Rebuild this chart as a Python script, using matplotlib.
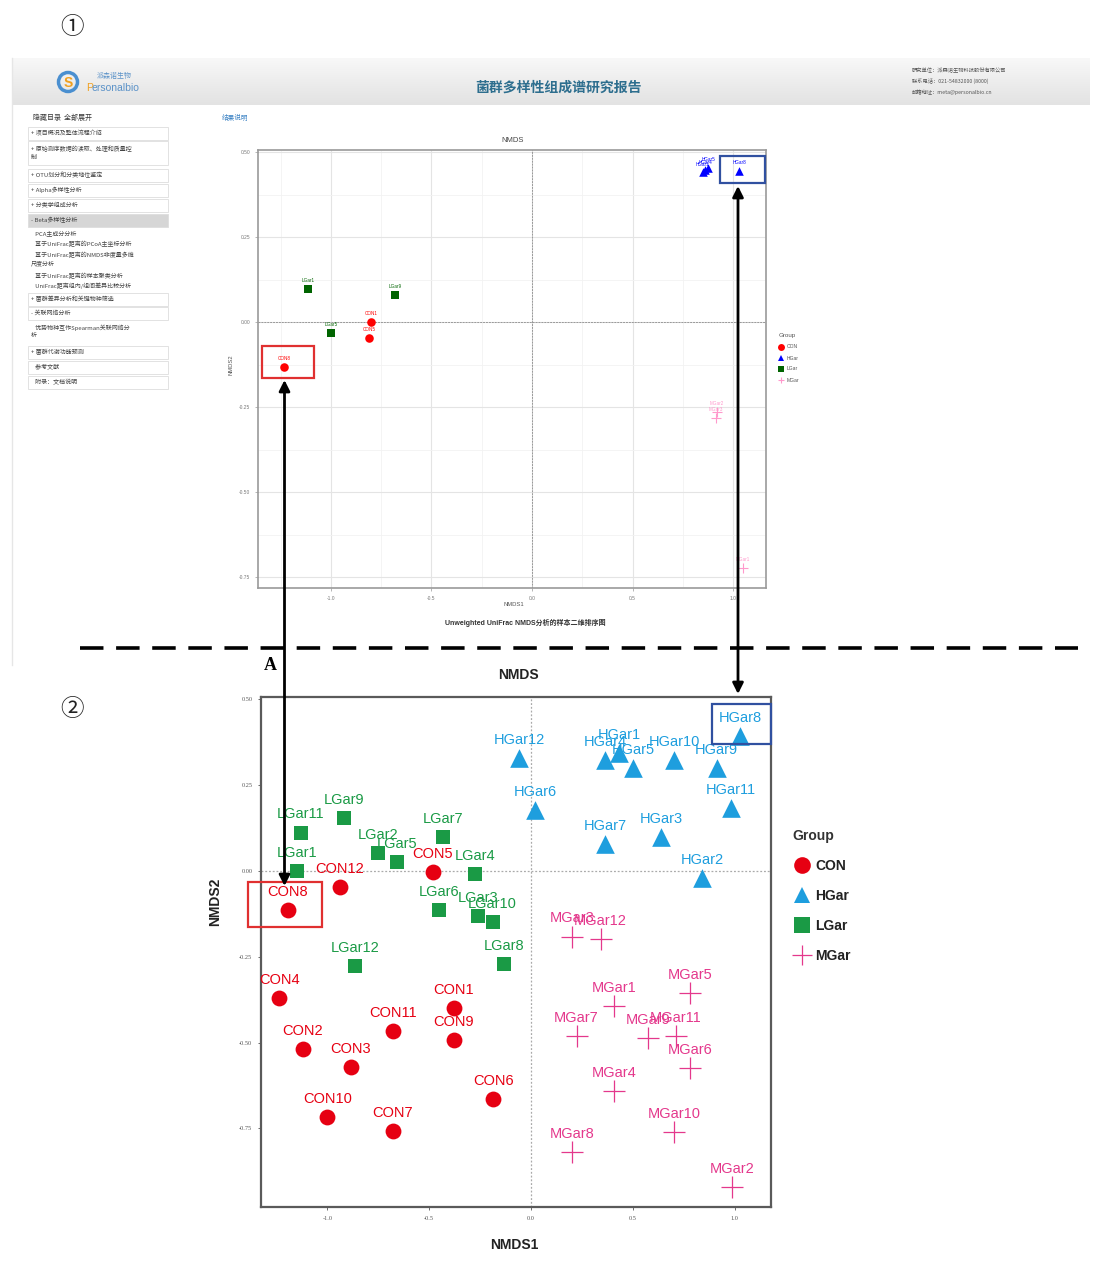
import matplotlib
matplotlib.use('Agg')
import matplotlib.pyplot as plt
import numpy as np
from matplotlib.patches import Rectangle, FancyArrowPatch, Circle
from matplotlib.lines import Line2D
from matplotlib.ticker import MultipleLocator

W, H = 1105, 1269
plt.rcParams['font.family'] = ['Liberation Sans', 'Noto Sans CJK SC', 'DejaVu Sans']
CJK = ['Noto Sans CJK SC', 'DejaVu Sans']

# ---------------- data: panel 2 (full NMDS) ----------------
con_labels = ['CON1', 'CON2', 'CON3', 'CON4', 'CON5', 'CON6', 'CON7', 'CON8', 'CON9', 'CON10', 'CON11', 'CON12']
con_x = [-0.379, -1.121, -0.885, -1.236, -0.483, -0.185, -0.679, -1.194, -0.379, -1.000, -0.679, -0.938]
con_y = [-0.400, -0.519, -0.571, -0.371, -0.003, -0.665, -0.757, -0.114, -0.493, -0.716, -0.466, -0.047]

hgar_labels = ['HGar1', 'HGar2', 'HGar3', 'HGar4', 'HGar5', 'HGar6', 'HGar7', 'HGar8', 'HGar9', 'HGar10', 'HGar11', 'HGar12']
hgar_x = [0.433, 0.841, 0.638, 0.363, 0.502, 0.020, 0.363, 1.026, 0.912, 0.704, 0.980, -0.057]
hgar_y = [0.343, -0.021, 0.100, 0.324, 0.299, 0.178, 0.079, 0.392, 0.299, 0.324, 0.183, 0.329]

lgar_labels = ['LGar1', 'LGar2', 'LGar3', 'LGar4', 'LGar5', 'LGar6', 'LGar7', 'LGar8', 'LGar9', 'LGar10', 'LGar11', 'LGar12']
lgar_x = [-1.147, -0.750, -0.259, -0.275, -0.659, -0.453, -0.430, -0.131, -0.917, -0.188, -1.129, -0.862]
lgar_y = [0.000, 0.052, -0.130, -0.009, 0.027, -0.114, 0.100, -0.272, 0.154, -0.150, 0.112, -0.276]

mgar_labels = ['MGar1', 'MGar2', 'MGar3', 'MGar4', 'MGar5', 'MGar6', 'MGar7', 'MGar8', 'MGar9', 'MGar10', 'MGar11', 'MGar12']
mgar_x = [0.409, 0.988, 0.200, 0.409, 0.781, 0.781, 0.224, 0.200, 0.576, 0.704, 0.710, 0.342]
mgar_y = [-0.393, -0.920, -0.191, -0.640, -0.357, -0.575, -0.480, -0.818, -0.486, -0.762, -0.480, -0.199]

group_names = ['CON', 'HGar', 'LGar', 'MGar']
x_ticks = [-1.0, -0.5, 0.0, 0.5, 1.0]
y_ticks = [0.50, 0.25, 0.00, -0.25, -0.50, -0.75]

# ---------------- data: panel 1 (report screenshot, small NMDS) ----------------
top_con_labels = ['CON8', 'CON1', 'CON5']
top_con_x = [-1.234, -0.800, -0.810]
top_con_y = [-0.132, 0.000, -0.047]
top_hgar_labels = ['HGar1', 'HGar5', 'HGar4', 'HGar8']
top_hgar_x = [0.850, 0.876, 0.862, 1.030]
top_hgar_y = [0.440, 0.453, 0.446, 0.444]
top_lgar_labels = ['LGar1', 'LGar9', 'LGar5']
top_lgar_x = [-1.114, -0.680, -1.000]
top_lgar_y = [0.097, 0.079, -0.032]
top_mgar_labels = ['MGar3', 'MGar2', 'MGar1']
top_mgar_x = [0.915, 0.920, 1.050]
top_mgar_y = [-0.282, -0.265, -0.724]

menu_items = ['+ 项目概况及整体流程介绍',
              '+ 原始测序数据的读取、处理和质量控\n制',
              '+ OTU划分和分类地位鉴定',
              '+ Alpha多样性分析',
              '+ 分类学组成分析',
              '- Beta多样性分析',
              '   PCA主成分分析',
              '   基于UniFrac距离的PCoA主坐标分析',
              '   基于UniFrac距离的NMDS非度量多维\n尺度分析',
              '   基于UniFrac距离的样本聚类分析',
              '   UniFrac距离组内/组间差异比较分析',
              '+ 菌群差异分析和关键物种筛选',
              '- 关联网络分析',
              '   优势物种互作Spearman关联网络分\n析',
              '+ 菌群代谢功能预测',
              '   参考文献',
              '   附录：文档说明']
menu_y = [133, 153, 175, 190, 205, 220, 233, 244, 259, 276, 286, 299, 313, 331, 352, 367, 382]
menu_boxed = [True, True, True, True, True, True, False, False, False, False, False,
              True, True, False, True, True, True]


def rect(x0, y0, x1, y1):
    return [x0 / W, 1 - y1 / H, (x1 - x0) / W, (y1 - y0) / H]


fig = plt.figure(figsize=(W / 100, H / 100), dpi=100)
fig.patch.set_facecolor('white')

# ---------------- background layer (screenshot chrome) ----------------
bg = fig.add_axes([0, 0, 1, 1], zorder=-5)
bg.set_xlim(0, W)
bg.set_ylim(H, 0)
bg.axis('off')
grad = np.linspace(0, 1, 50).reshape(-1, 1)
bg.imshow(grad, extent=[12, 1090, 105, 58], cmap=matplotlib.colors.LinearSegmentedColormap.from_list(
    'hdr', ['#f8f8f8', '#ededed', '#e3e3e3']), aspect='auto', zorder=0)
bg.plot([12, 12], [58, 665], color='#e6e6e6', lw=1)
# logo
bg.add_patch(Circle((68, 82), 9.5, facecolor='none', edgecolor='#4a8fd0', lw=2.5, zorder=2))
bg.text(68, 83, 'S', color='#f0a020', fontsize=10, fontweight='bold', ha='center', va='center', zorder=3)
bg.text(97, 76, '派森诺生物', fontsize=5, color='#5b92c8', family=CJK, va='center')
bg.text(86, 88, 'P', fontsize=7.5, color='#f0a020', va='center')
bg.text(92, 88, 'ersonalbio', fontsize=7.5, color='#5b92c8', va='center')
bg.text(558, 88, '菌群多样性组成谱研究报告', fontsize=10, fontweight='bold', color='#2d6e8e',
        family=CJK, ha='center', va='center')
for yy, tt in zip([70, 81, 92], ['研究单位：派森诺生物科技股份有限公司', '联系电话：021-54832000 (8000)',
                                   '邮箱地址：meta@personalbio.cn']):
    bg.text(912, yy, tt, fontsize=3.8, color='#555555', family=CJK, va='center')
# sidebar
bg.text(33, 118, '隐藏目录  全部展开', fontsize=5, color='#333333', family=CJK, va='center')
for txt, yy, boxed in zip(menu_items, menu_y, menu_boxed):
    nlines = txt.count('\n') + 1
    hh = 11 * nlines + 2
    if boxed:
        fc = '#d6d6d6' if txt.startswith('- Beta') else 'white'
        bg.add_patch(Rectangle((28, yy - hh / 2), 140, hh, facecolor=fc, edgecolor='#dddddd', lw=0.6))
    bg.text(31, yy, txt, fontsize=4.3, color='#444444', family=CJK, va='center', linespacing=1.5)
bg.text(222, 118, '结果说明', fontsize=4.8, color='#3b82c4', family=CJK, va='center')

# ---------------- panel 1: small NMDS in screenshot ----------------
ax1 = fig.add_axes(rect(258, 150, 766, 588))
ax1.set_xlim(-1.363, 1.164)
ax1.set_ylim(-0.782, 0.506)
ax1.set_facecolor('white')
ax1.xaxis.set_major_locator(MultipleLocator(0.5))
ax1.xaxis.set_minor_locator(MultipleLocator(0.25))
ax1.set_yticks(y_ticks)
ax1.yaxis.set_minor_locator(MultipleLocator(0.125))
ax1.grid(True, which='major', color='#e4e4e4', lw=0.8)
ax1.grid(True, which='minor', color='#f2f2f2', lw=0.6)
ax1.set_axisbelow(True)
ax1.axvline(0, color='#999999', lw=0.7, ls=(0, (2, 1)))
ax1.axhline(0, color='#999999', lw=0.7, ls=(0, (2, 1)))
for s in ax1.spines.values():
    s.set_color('#9a9a9a')
    s.set_linewidth(1.2)
ax1.tick_params(labelsize=3.5, labelcolor='#777777', color='#999999', length=2, width=0.5, which='major')
ax1.tick_params(which='minor', length=0)
ax1.set_xticklabels([f'{v:.1f}' for v in ax1.get_xticks()])
ax1.set_yticklabels([f'{v:.2f}' for v in y_ticks])
top_cols = {'CON': '#ff0000', 'HGar': '#0000ff', 'LGar': '#006400', 'MGar': '#ff99cc'}
top_marks = {'CON': 'o', 'HGar': '^', 'LGar': 's', 'MGar': '+'}
top_sets = [('CON', top_con_x, top_con_y, top_con_labels), ('HGar', top_hgar_x, top_hgar_y, top_hgar_labels),
            ('LGar', top_lgar_x, top_lgar_y, top_lgar_labels), ('MGar', top_mgar_x, top_mgar_y, top_mgar_labels)]
top_handles = []
for g, xs, ys, lbs in top_sets:
    ax1.scatter(xs, ys, s=38 if g != 'MGar' else 60, marker=top_marks[g], color=top_cols[g],
                linewidths=0.8 if g == 'MGar' else 0, zorder=3)
    for x, y, l in zip(xs, ys, lbs):
        ax1.annotate(l, (x, y), xytext=(0, 6), textcoords='offset points', ha='center', va='center',
                     fontsize=3.3, color=top_cols[g], zorder=4)
    top_handles.append(Line2D([], [], marker=top_marks[g], color=top_cols[g], ls='none',
                              markersize=5, markeredgewidth=0.8 if g == 'MGar' else 0, label=g))
leg1 = fig.legend(handles=top_handles, title='Group', loc='upper left',
                  bbox_to_anchor=(776 / W, 1 - 331 / H), frameon=False, fontsize=3.6,
                  title_fontsize=4.5, labelspacing=1.2, handletextpad=0.4, borderpad=0, handlelength=1.2)
leg1._legend_box.align = 'left'
for t in leg1.get_texts():
    t.set_color('#555555')
leg1.get_title().set_color('#555555')

# ---------------- panel 2: main NMDS ----------------
ax2 = fig.add_axes(rect(260.7, 697.3, 770.7, 1207.3))
ax2.set_xlim(-1.327, 1.177)
ax2.set_ylim(-0.980, 0.506)
ax2.set_facecolor('white')
ax2.set_xticks(x_ticks)
ax2.set_yticks(y_ticks)
ax2.set_xticklabels([f'{v:.1f}' for v in x_ticks])
ax2.set_yticklabels([f'{v:.2f}' for v in y_ticks])
ax2.tick_params(labelsize=4.5, labelcolor='#555555', color='#555555', length=2.5, width=0.6,
                labelfontfamily='Liberation Serif')
for s in ax2.spines.values():
    s.set_color('#5a5a5a')
    s.set_linewidth(1.6)
ax2.axvline(0, color='#aaaaaa', lw=0.9, ls=(0, (1.5, 1.5)), zorder=1)
ax2.axhline(0, color='#aaaaaa', lw=0.9, ls=(0, (1.5, 1.5)), zorder=1)

cols = {'CON': '#e60012', 'HGar': '#1e9ede', 'LGar': '#1a9a45', 'MGar': '#e4388c'}
marks = {'CON': 'o', 'HGar': '^', 'LGar': 's', 'MGar': '+'}
sizes = {'CON': 130, 'HGar': 180, 'LGar': 115, 'MGar': 260}
sets = [('CON', con_x, con_y, con_labels), ('HGar', hgar_x, hgar_y, hgar_labels),
        ('LGar', lgar_x, lgar_y, lgar_labels), ('MGar', mgar_x, mgar_y, mgar_labels)]
handles = []
for g, xs, ys, lbs in sets:
    ax2.scatter(xs, ys, s=sizes[g], marker=marks[g], color=cols[g],
                linewidths=0.9 if g == 'MGar' else 0, zorder=3)
    for x, y, l in zip(xs, ys, lbs):
        ax2.annotate(l, (x, y), xytext=(0, 13), textcoords='offset points', ha='center', va='center',
                     fontsize=10.5, color=cols[g], zorder=4)
    handles.append(Line2D([], [], marker=marks[g], color=cols[g], ls='none',
                          markersize=12 if g != 'MGar' else 15,
                          markeredgewidth=0.9 if g == 'MGar' else 0, label=g))
leg2 = fig.legend(handles=handles, title='Group', loc='upper left',
                  bbox_to_anchor=(785 / W, 1 - 822 / H), frameon=False,
                  prop={'size': 10, 'weight': 'bold'}, labelspacing=1.15, handletextpad=0.3,
                  borderpad=0, handlelength=1.4)
leg2._legend_box.align = 'left'
leg2.get_title().set_fontweight('bold')
leg2.get_title().set_fontsize(10)
leg2.get_title().set_color('#333333')
for t in leg2.get_texts():
    t.set_color('#222222')

# ---------------- overlay: labels, arrows, boxes ----------------
ov = fig.add_axes([0, 0, 1, 1], zorder=20)
ov.set_xlim(0, W)
ov.set_ylim(H, 0)
ov.axis('off')
ov.patch.set_alpha(0)

ov.text(72, 28, '①', fontsize=17, family=CJK, ha='center', va='center', color='#222222')
ov.text(72, 710, '②', fontsize=17, family=CJK, ha='center', va='center', color='#222222')
ov.text(270, 665, 'A', fontsize=13, family='Liberation Serif', fontweight='bold', ha='center', va='center')

# panel 1 texts
ov.text(513, 140, 'NMDS', fontsize=5.5, ha='center', va='center', color='#444444')
ov.text(514, 605, 'NMDS1', fontsize=4.2, ha='center', va='center', color='#555555')
ov.text(231, 365, 'NMDS2', fontsize=4.2, ha='center', va='center', rotation=90, color='#555555')
ov.text(525, 623, 'Unweighted UniFrac NMDS分析的样本二维排序图', fontsize=5, fontweight='bold',
        ha='center', va='center', color='#333333', family=['Liberation Sans', 'Noto Sans CJK SC'])

# panel 2 texts
ov.text(518, 675, 'NMDS', fontsize=10, fontweight='bold', ha='center', va='center', color='#222222')
ov.text(514, 1245, 'NMDS1', fontsize=10, fontweight='bold', ha='center', va='center', color='#222222')
ov.text(215, 902, 'NMDS2', fontsize=10, fontweight='bold', ha='center', va='center', rotation=90,
        color='#222222')

# dashed separator
ov.plot([80, 1078], [648, 648], color='black', lw=2.6, ls=(0, (6.5, 3.5)), solid_capstyle='butt')

# highlight boxes
ov.add_patch(Rectangle((262, 346), 52, 32, facecolor='none', edgecolor='#e03030', lw=1.6))
ov.add_patch(Rectangle((720, 156), 45, 27, facecolor='none', edgecolor='#3050a0', lw=1.6))
ov.add_patch(Rectangle((248, 882), 74, 45, facecolor='none', edgecolor='#e03030', lw=1.6))
ov.add_patch(Rectangle((712, 704), 59, 40, facecolor='none', edgecolor='#3050a0', lw=1.6))

# double-headed connecting arrows
for xa, ya, yb in [(284.5, 380, 886), (738, 186, 694)]:
    ov.add_patch(FancyArrowPatch((xa, ya), (xa, yb), arrowstyle='<|-|>', mutation_scale=16,
                                 color='black', lw=2.0, shrinkA=0, shrinkB=0))

fig.savefig('out.png', dpi=100, facecolor='white')
